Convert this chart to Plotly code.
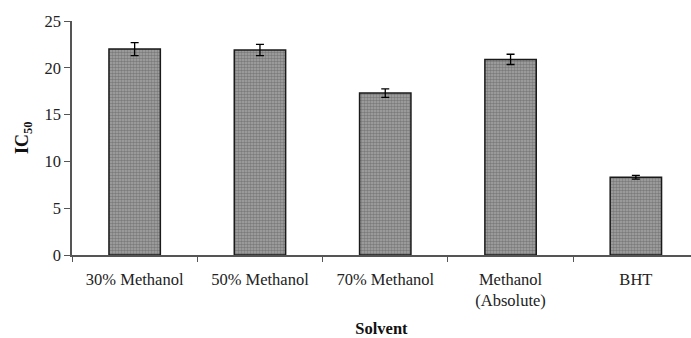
import plotly.graph_objects as go

categories = ["30% Methanol", "50% Methanol", "70% Methanol", "Methanol<br>(Absolute)", "BHT"]
ic50 = [22.0, 21.9, 17.3, 20.9, 8.3]
err = [0.7, 0.6, 0.45, 0.55, 0.2]
yticks = [0, 5, 10, 15, 20, 25]

fig = go.Figure()
fig.add_trace(go.Bar(
    x=categories, y=ic50,
    width=0.41,
    marker=dict(
        color="#8a8a8a",
        line=dict(color="#1a1a1a", width=1.5),
        pattern=dict(shape=".", size=3, solidity=0.55, fgcolor="#505050", bgcolor="#a6a6a6"),
    ),
    error_y=dict(type="data", array=err, visible=True, color="black", thickness=1.3, width=4),
))

font = dict(family="Liberation Serif, Times New Roman, serif", size=16.5, color="#222")
fig.update_layout(
    width=691, height=338,
    margin=dict(l=72, r=0, t=21, b=83),
    paper_bgcolor="white", plot_bgcolor="white",
    showlegend=False,
    font=font,
    xaxis=dict(
        type="category", range=[-0.5, 4.44], automargin=False,
        showline=True, linecolor="#555", linewidth=1.5,
        ticks="outside", tickson="boundaries", ticklen=5, tickcolor="#555",
        ticklabelstandoff=8,
        showgrid=False, tickfont=font,
        title=dict(text="<b>Solvent</b>", font=dict(family=font["family"], size=16.5, color="#111"), standoff=20),
    ),
    yaxis=dict(
        range=[0, 25], tickvals=yticks, automargin=False,
        showline=True, linecolor="#555", linewidth=1.5,
        ticks="outside", ticklen=6, tickcolor="#555",
        showgrid=False, zeroline=False, tickfont=font,
    ),
    annotations=[dict(
        text="<b>IC<sub>50</sub></b>", textangle=-90,
        xref="paper", yref="paper", x=0, y=0.5, xshift=-49,
        xanchor="center", yanchor="middle", showarrow=False,
        font=dict(family=font["family"], size=18, color="#111"),
    )],
)

fig.write_html(
    "out.html",
    config={"displayModeBar": False},
    post_script="document.body.style.margin='0';document.body.style.overflow='hidden';",
)
